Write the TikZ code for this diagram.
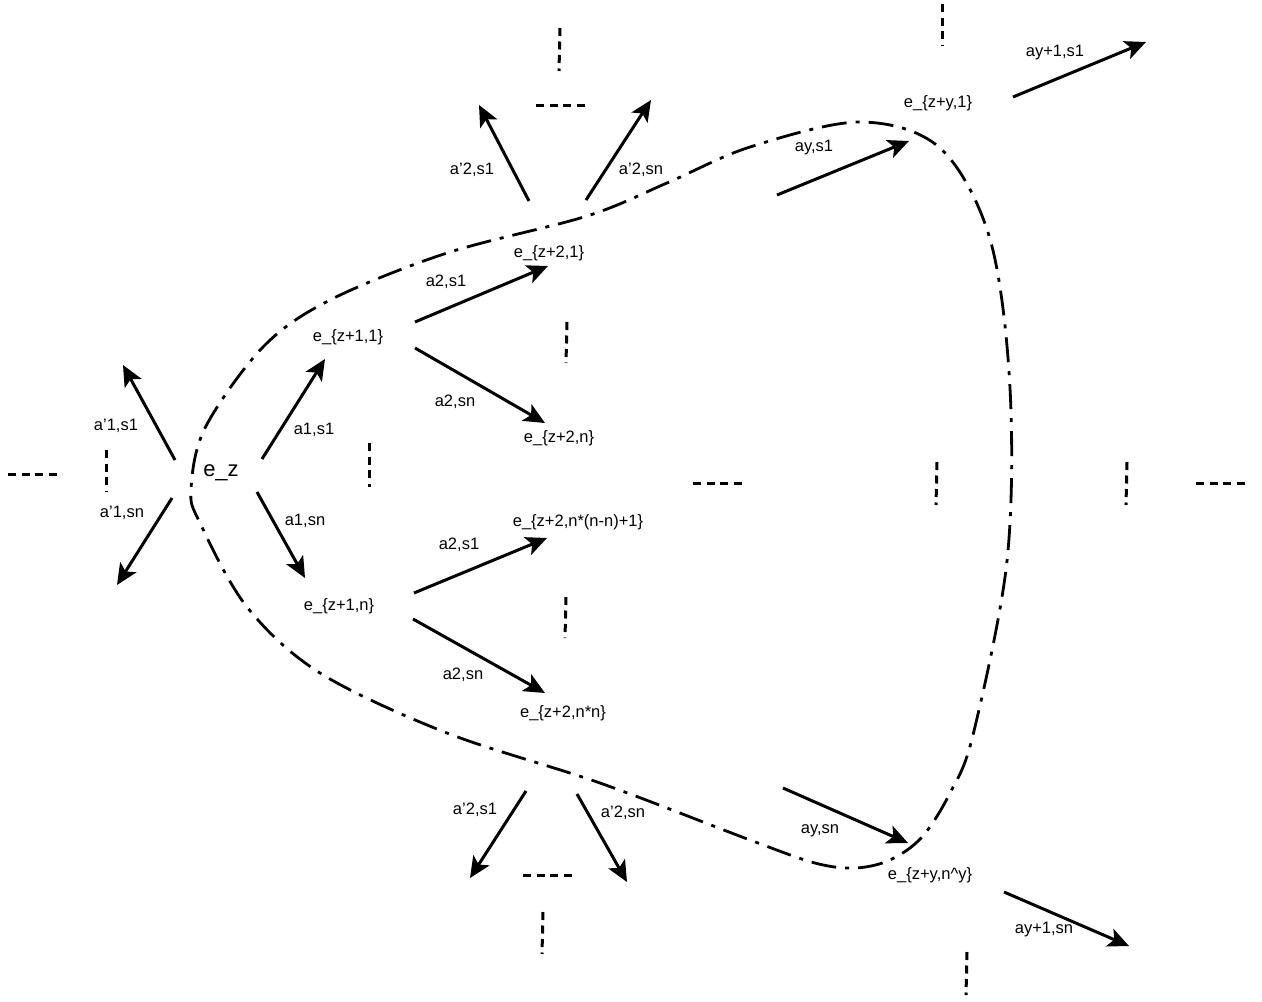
\documentclass[tikz,border=0pt]{standalone}
\usepackage{fontspec}
\setmainfont{Liberation Sans}
\usetikzlibrary{arrows.meta}
\begin{document}
\begin{tikzpicture}[x=1pt,y=-1pt,
  lbl/.style={inner sep=0pt, font=\fontsize{16.5}{19}\selectfont},
  big/.style={inner sep=0pt, font=\fontsize{22}{26}\selectfont},
  arr/.style={line width=3pt, -{Stealth[length=21pt,width=19pt,inset=5pt]}},
  dots/.style={line width=3pt, dash pattern=on 8pt off 5.5pt},
  lp/.style={line width=2.8pt, dash pattern=on 25pt off 9pt on 4pt off 9pt}]
\useasboundingbox (0,0) rectangle (1262,1002);

% state nodes
\node[big] (ez) at (221,473) {e\_z};
\node[lbl] (e11) at (348,337) {e\_\{z+1,1\}};
\node[lbl] (e1n) at (339,606) {e\_\{z+1,n\}};
\node[lbl] (e21) at (549,253) {e\_\{z+2,1\}};
\node[lbl] (e2n) at (559,438) {e\_\{z+2,n\}};
\node[lbl] (e2m) at (578,522) {e\_\{z+2,n*(n-n)+1\}};
\node[lbl] (e2nn) at (563,713) {e\_\{z+2,n*n\}};
\node[lbl] (ey1) at (938,103) {e\_\{z+y,1\}};
\node[lbl] (eyn) at (930,875) {e\_\{z+y,n\textasciicircum y\}};

% edge labels
\node[lbl] (l1) at (116,426) {a'1,s1};
\node[lbl] (l2) at (122,513) {a'1,sn};
\node[lbl] (l3) at (314,430) {a1,s1};
\node[lbl] (l4) at (305,521) {a1,sn};
\node[lbl] (l5) at (446,282) {a2,s1};
\node[lbl] (l6) at (455,402) {a2,sn};
\node[lbl] (l7) at (459,545) {a2,s1};
\node[lbl] (l8) at (463,675) {a2,sn};
\node[lbl] (l9) at (472,170) {a'2,s1};
\node[lbl] (l10) at (641,170) {a'2,sn};
\node[lbl] (l11) at (475,810) {a'2,s1};
\node[lbl] (l12) at (623,813) {a'2,sn};
\node[lbl] (l13) at (814,148) {ay,s1};
\node[lbl] (l14) at (1055,53) {ay+1,s1};
\node[lbl] (l15) at (820,831) {ay,sn};
\node[lbl] (l16) at (1044,930) {ay+1,sn};

% arrow end points
\coordinate (a1s) at (175,460); \coordinate (a1t) at (123,365);
\coordinate (a2s) at (172,498); \coordinate (a2t) at (117,585);
\coordinate (a3s) at (262,459); \coordinate (a3t) at (325,359);
\coordinate (a4s) at (257,492); \coordinate (a4t) at (305,578);
\coordinate (a5s) at (415,322); \coordinate (a5t) at (548,266);
\coordinate (a6s) at (415,348); \coordinate (a6t) at (545,423);
\coordinate (a7s) at (414,593); \coordinate (a7t) at (547,538);
\coordinate (a8s) at (413,619); \coordinate (a8t) at (545,693);
\coordinate (a9s) at (529,201); \coordinate (a9t) at (479,105);
\coordinate (a10s) at (586,200); \coordinate (a10t) at (651,100);
\coordinate (a11s) at (777,195); \coordinate (a11t) at (909,141);
\coordinate (a12s) at (1013,97); \coordinate (a12t) at (1146,42);
\coordinate (a13s) at (526,791); \coordinate (a13t) at (470,878);
\coordinate (a14s) at (577,794); \coordinate (a14t) at (627,882);
\coordinate (a15s) at (783,788); \coordinate (a15t) at (908,843);
\coordinate (a16s) at (1004,892); \coordinate (a16t) at (1129,946);

\foreach \i in {1,...,16} { \draw[arr] (a\i s) -- (a\i t); }

% dotted ellipsis marks
\coordinate (d1a) at (8,474); \coordinate (d1b) at (62,474);
\coordinate (d2a) at (106,450); \coordinate (d2b) at (106,492);
\coordinate (d3a) at (369,443); \coordinate (d3b) at (369,487);
\coordinate (d4a) at (567,322); \coordinate (d4b) at (566,363);
\coordinate (d5a) at (566,597); \coordinate (d5b) at (565,638);
\coordinate (d6a) at (693,483); \coordinate (d6b) at (746,483);
\coordinate (d7a) at (937,462); \coordinate (d7b) at (936,505);
\coordinate (d8a) at (1127,462); \coordinate (d8b) at (1126,505);
\coordinate (d9a) at (1196,483); \coordinate (d9b) at (1249,483);
\coordinate (d10a) at (560,28); \coordinate (d10b) at (559,71);
\coordinate (d11a) at (536,105); \coordinate (d11b) at (589,105);
\coordinate (d12a) at (942,4); \coordinate (d12b) at (942,46);
\coordinate (d13a) at (523,875); \coordinate (d13b) at (576,875);
\coordinate (d14a) at (543,912); \coordinate (d14b) at (542,954);
\coordinate (d15a) at (967,952); \coordinate (d15b) at (966,995);
\foreach \i in {1,...,15} { \draw[dots] (d\i a) -- (d\i b); }

% dash-dot loop
\draw[lp] plot[smooth cycle, tension=0.55] coordinates {
 (191,490) (205,428) (263,347) (330,300) (447,253) (587,216) (667,183)
 (750,147) (860,122) (940,148) (990,239) (1010,388) (1007,561) (973,735)
 (950,793) (922,837) (890,860) (855,868) (815,863) (750,840) (600,783)
 (447,733) (320,673) (247,607) (200,523)};
\end{tikzpicture}
\end{document}
